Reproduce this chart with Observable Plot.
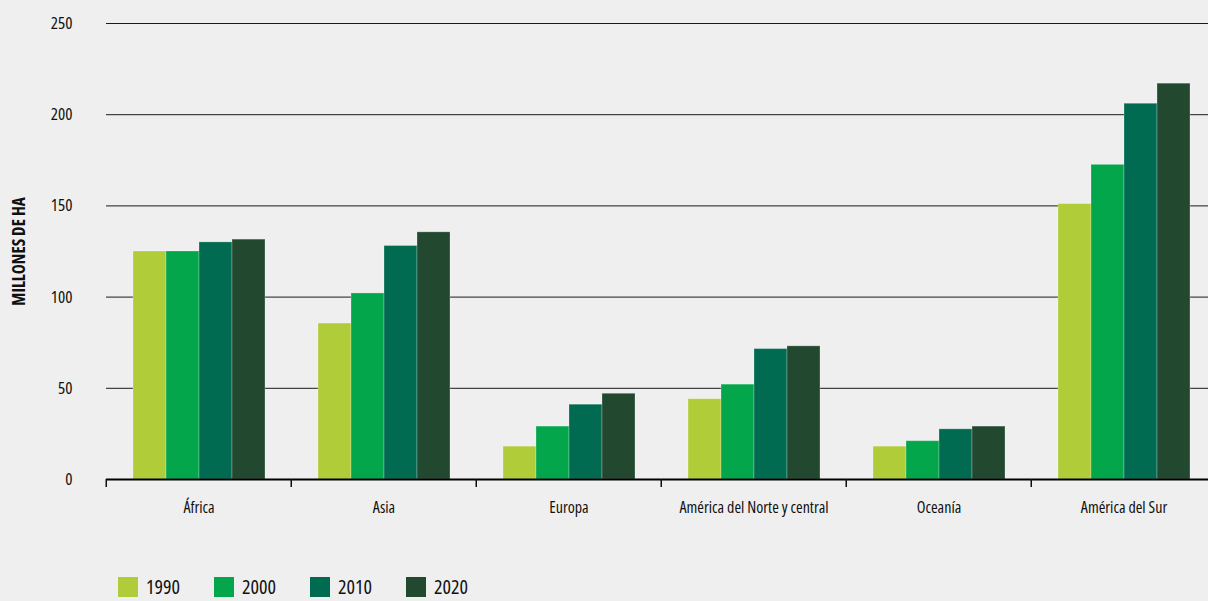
<!DOCTYPE html>
<html>
<head>
<meta charset="utf-8">
<script src="https://cdn.jsdelivr.net/npm/d3@7"></script>
<script src="https://cdn.jsdelivr.net/npm/@observablehq/plot@0.6"></script>
<style>
  html, body { margin: 0; padding: 0; background: #efefef; }
  body { width: 1208px; height: 601px; overflow: hidden; position: relative;
         font-family: "Open Sans", sans-serif; font-stretch: 75%; }
  #chart svg { display: block; background: #efefef; overflow: hidden; font-stretch: 75%; }
  #legend { position: absolute; left: 118px; top: 575px; display: flex; }
  .item { display: flex; align-items: center; width: 96px; height: 24px; font-size: 20px; line-height: 24px; color: #111; font-weight: 500; }
  .sw { width: 20px; height: 20px; margin-right: 8px; flex: none; }
  g[aria-label="y-axis label"] text { font-weight: bold; font-size: 17px; }
</style>
</head>
<body>
<div id="chart"></div>
<div id="legend"></div>
<script>
const regions = ["África", "Asia", "Europa", "América del Norte y central", "Oceanía", "América del Sur"];
const years = ["1990", "2000", "2010", "2020"];
const v1990 = [125, 85.5, 18, 44, 18, 151];
const v2000 = [125, 102, 29, 52, 21, 172.5];
const v2010 = [130, 128, 41, 71.5, 27.5, 206];
const v2020 = [131.5, 135.5, 47, 73, 29, 217];
const yTicks = [0, 50, 100, 150, 200, 250];
const colors = ["#b1cc39", "#04a64b", "#006b50", "#234830"];
const yLabel = "MILLONES DE HA";

const series = [v1990, v2000, v2010, v2020];
const data = [];
regions.forEach((r, i) => years.forEach((y, j) => data.push({region: r, year: y, value: series[j][i]})));

const W = 1208, H = 560, mL = 104, mR = -9;
const fxStep = (W - mL - mR) / regions.length;

const font = '"Open Sans", sans-serif';

const chart = Plot.plot({
  width: W, height: H,
  marginLeft: mL, marginRight: mR, marginTop: 23, marginBottom: 81,
  style: {background: "#efefef", fontFamily: font, color: "#111"},
  fx: {domain: regions, padding: 0, label: null},
  x: {domain: years, paddingOuter: 0.73, paddingInner: 0, axis: null},
  y: {domain: [0, 250], label: null},
  color: {domain: years, range: colors},
  marks: [
    Plot.gridY(yTicks, {stroke: "#1a1a1a", strokeOpacity: 1, strokeWidth: 1}),
    Plot.barY(data, {fx: "region", x: "year", y: "value", fill: "year", stroke: "#ffffff", strokeOpacity: 0.25, strokeWidth: 1}),
    Plot.ruleY([0], {stroke: "#000", strokeWidth: 2}),
    Plot.axisY(yTicks, {tickSize: 0, tickPadding: 34, fontSize: 17, fontWeight: 500, label: yLabel, labelArrow: "none", labelAnchor: "center", labelOffset: 94}),
    Plot.axisFx({anchor: "bottom", tickSize: 0, tickPadding: 22, fontSize: 16, fontWeight: 500, label: null}),
    Plot.axisFx({anchor: "bottom", text: null, tickSize: 8, strokeWidth: 1.5, dx: -fxStep / 2, label: null})
  ]
});
document.getElementById("chart").appendChild(chart);

const legend = document.getElementById("legend");
years.forEach((y, i) => {
  const it = document.createElement("div");
  it.className = "item";
  const sw = document.createElement("span");
  sw.className = "sw";
  sw.style.background = colors[i];
  const t = document.createElement("span");
  t.textContent = y;
  it.appendChild(sw); it.appendChild(t);
  legend.appendChild(it);
});
</script>
</body>
</html>
